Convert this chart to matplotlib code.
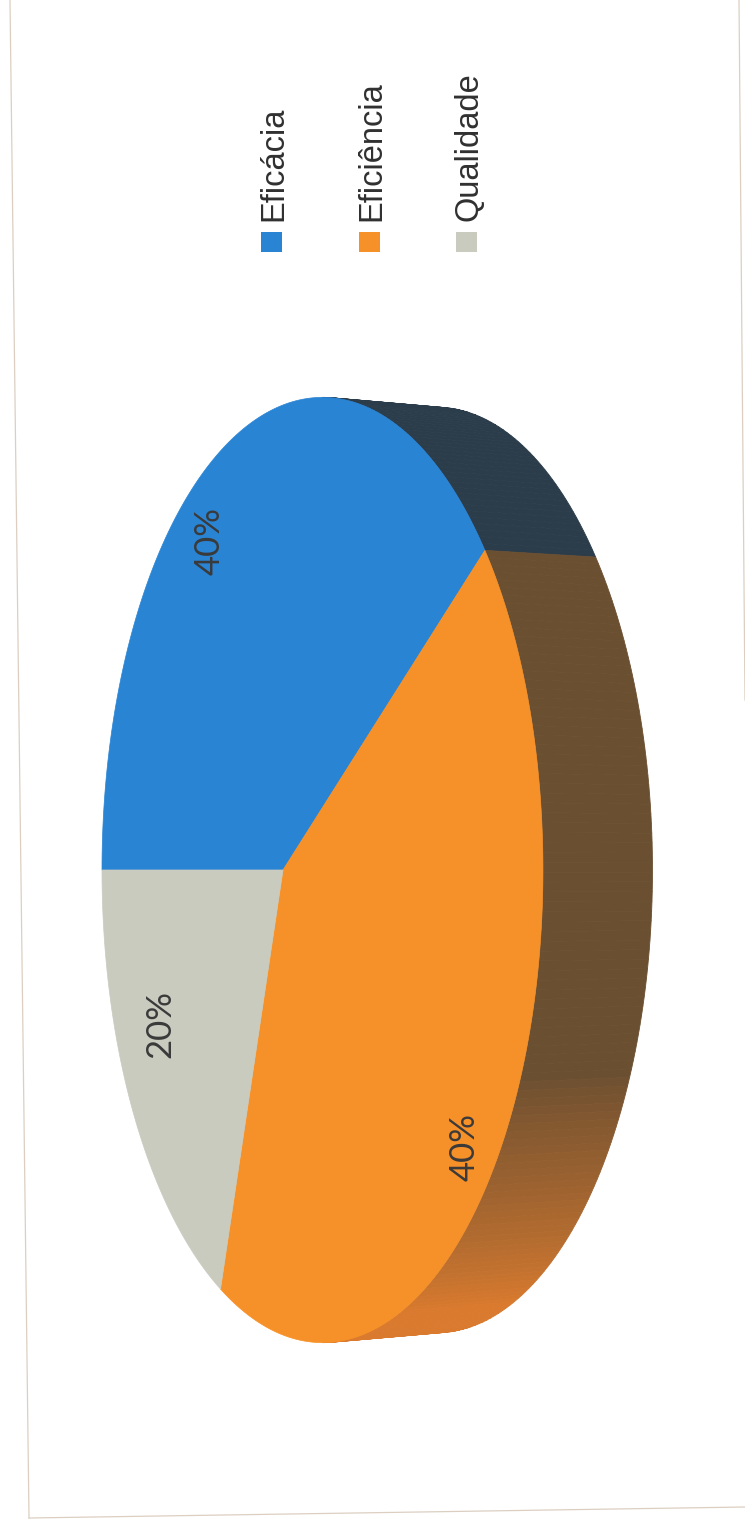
import matplotlib
matplotlib.use("Agg")
import matplotlib.pyplot as plt
import numpy as np
from matplotlib.patches import Polygon, Rectangle
from matplotlib.colors import to_rgb

# data
categories = ["Eficácia", "Eficiência", "Qualidade"]
values = [40, 40, 20]

# styling
top_colors = ["#2a84d4", "#f69129", "#c9cbbf"]
side_dark = ["#2b3c4b", "#6b4f31", "#8f9088"]
side_light = ["#2b3c4b", "#d97a2e", "#8f9088"]
label_r = [0.84, 0.90, 0.74]       # radial position of the % labels
label_shift = [8, 1, -6]            # angular nudge of the % labels (deg)

# pie geometry in picture pixels (chart is rotated 90 deg on the page)
cx, cy = 283, 870
A, B, k = 465, 213.4, 0.179        # perspective ellipse
depth, s_bot = 115, 0.979


def project(u, v, dx=0.0, s=1.0):
    w = 1 + k * v
    return cx + dx - s * B * v / w, cy - s * A * u / w


def arc(t1, t2, n, dx=0.0, s=1.0):
    t = np.radians(np.linspace(t1, t2, n))
    x, y = project(np.cos(t), np.sin(t), dx, s)
    return np.column_stack([x, y])


fig = plt.figure(figsize=(7.45, 15.25), dpi=100)
ax = fig.add_axes([0, 0, 1, 1])
ax.set_xlim(0, 745)
ax.set_ylim(1525, 0)
ax.axis("off")

# scanned frame
frame_col = "#dccfc2"
ax.plot([10, 29], [0, 1518], color=frame_col, lw=0.9)
ax.plot([29, 745], [1518, 1507], color=frame_col, lw=0.9)
ax.plot([739, 745], [0, 700], color=frame_col, lw=0.9)

total = float(sum(values))
starts, ends = [], []
a = 90.0
for v in values:
    starts.append(a)
    a -= 360.0 * v / total
    ends.append(a)

# visible side of the cylinder
t_hi = -np.degrees(np.arcsin(k))
t_lo = -180 + np.degrees(np.arcsin(k))
for i in range(len(values)):
    for off in (0, 360, -360):
        hi = min(starts[i] + off, t_hi)
        lo = max(ends[i] + off, t_lo)
        if hi <= lo:
            continue
        edges = np.linspace(hi, lo, max(2, int((hi - lo) / 1.0) + 1))
        c0, c1 = np.array(to_rgb(side_dark[i])), np.array(to_rgb(side_light[i]))
        for e1, e2 in zip(edges[:-1], edges[1:]):
            m = 0.5 * (e1 + e2)
            f = np.clip((-112 - m) / (150 - 112), 0, 1) ** 0.8
            col = c0 + (c1 - c0) * f
            pts = np.vstack([arc(e1, e2, 4), arc(e2, e1, 4, depth, s_bot)])
            ax.add_patch(Polygon(pts, closed=True, facecolor=col,
                                 edgecolor=col, lw=0.6))

# top face
for i in range(len(values)):
    pts = np.vstack([[cx, cy], arc(starts[i], ends[i], 200)])
    ax.add_patch(Polygon(pts, closed=True, facecolor=top_colors[i],
                         edgecolor=top_colors[i], lw=0.5))

# percentage labels
for i, v in enumerate(values):
    mid = np.radians(0.5 * (starts[i] + ends[i]) + label_shift[i])
    x, y = project(label_r[i] * np.cos(mid), label_r[i] * np.sin(mid))
    ax.text(x, y, f"{v / total:.0%}", rotation=90, ha="center", va="center",
            fontsize=25, family="Lato", color="#3a3a3a")

# legend
for i, name in enumerate(categories):
    lx = 261 + i * 97.5
    ax.add_patch(Rectangle((lx, 232), 21, 20, facecolor=top_colors[i],
                           edgecolor="none"))
    ax.text(lx + 21.5, 221, name, rotation=90, rotation_mode="anchor",
            ha="left", va="baseline", fontsize=23.5,
            family="Liberation Sans", color="#303030")

fig.savefig("out.png", dpi=100)
